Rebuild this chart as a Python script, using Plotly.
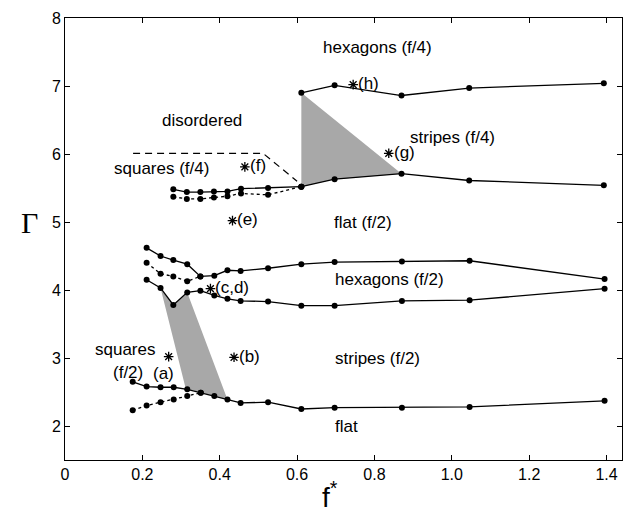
import plotly.graph_objects as go

# ---- data ----
f4_x = [0.611, 0.697, 0.870, 1.045, 1.393]
f4_hex_top = [6.90, 7.01, 6.86, 6.97, 7.04]
f4_flat_top = [5.52, 5.63, 5.71, 5.61, 5.54]

sq4_x = [0.280, 0.315, 0.350, 0.385, 0.420, 0.455, 0.525, 0.611]
sq4_upper = [5.48, 5.44, 5.44, 5.45, 5.45, 5.49, 5.50, 5.52]
sq4_lower = [5.37, 5.34, 5.34, 5.36, 5.38, 5.42, 5.40, 5.52]

hex2_x = [0.211, 0.247, 0.280, 0.316, 0.350, 0.386, 0.420, 0.454, 0.525, 0.611, 0.697, 0.871, 1.046, 1.395]
hex2_upper = [4.62, 4.50, 4.44, 4.38, 4.20, 4.21, 4.29, 4.28, 4.32, 4.38, 4.41, 4.42, 4.43, 4.16]
hex2_lower = [4.15, 4.03, 3.78, 3.965, 3.99, 3.92, 3.87, 3.84, 3.83, 3.77, 3.77, 3.84, 3.85, 4.02]

hex2_dot_x = [0.211, 0.247, 0.280, 0.316, 0.350]
hex2_dot_y = [4.40, 4.24, 4.20, 4.13, 4.20]

flat_x = [0.175, 0.211, 0.247, 0.281, 0.316, 0.351, 0.386, 0.420, 0.454, 0.525, 0.611, 0.697, 0.871, 1.046, 1.395]
flat_y = [2.65, 2.58, 2.57, 2.57, 2.54, 2.49, 2.44, 2.39, 2.34, 2.35, 2.25, 2.27, 2.27, 2.28, 2.37]

sq2_dot_x = [0.175, 0.211, 0.247, 0.281, 0.316, 0.351]
sq2_dot_y = [2.23, 2.30, 2.35, 2.39, 2.44, 2.49]

dis_x = [0.176, 0.512, 0.600]
dis_y = [6.01, 6.01, 5.60]

grey4_x = [0.611, 0.611, 0.697, 0.870]
grey4_y = [6.90, 5.52, 5.63, 5.71]

grey2_x = [0.247, 0.281, 0.316, 0.420, 0.386, 0.351, 0.312]
grey2_y = [4.03, 3.78, 3.965, 2.39, 2.44, 2.49, 2.55]

star_x = [0.268, 0.437, 0.376, 0.433, 0.465, 0.837, 0.745]
star_y = [3.02, 3.01, 4.02, 5.02, 5.81, 6.01, 7.02]
star_lbl = ["(a)", "(b)", "(c,d)", "(e)", "(f)", "(g)", "(h)"]

region_lbl = ["hexagons (f/4)", "disordered", "stripes (f/4)", "squares (f/4)", "flat (f/2)",
              "hexagons (f/2)", "stripes (f/2)", "flat", "squares", "(f/2)"]
region_x = [0.808, 0.354, 1.002, 0.250, 0.771, 0.840, 0.809, 0.728, 0.155, 0.162]
region_y = [7.56, 6.50, 6.24, 5.79, 4.99, 4.15, 2.99, 1.99, 3.13, 2.78]

ticks_x = [0, 0.2, 0.4, 0.6, 0.8, 1.0, 1.2, 1.4]
ticks_x_lbl = ["0", "0.2", "0.4", "0.6", "0.8", "1.0", "1.2", "1.4"]
ticks_y = [2, 3, 4, 5, 6, 7, 8]

FONT = "Arial, Liberation Sans, sans-serif"
GREY = "#a8a8a8"

fig = go.Figure()

# shaded regions
fig.add_trace(go.Scatter(x=grey4_x, y=grey4_y, fill="toself", fillcolor=GREY,
                         mode="lines", line=dict(width=0, color=GREY), hoverinfo="skip"))
fig.add_trace(go.Scatter(x=grey2_x, y=grey2_y, fill="toself", fillcolor=GREY,
                         mode="lines", line=dict(width=0, color=GREY), hoverinfo="skip"))

def solid(x, y):
    fig.add_trace(go.Scatter(x=x, y=y, mode="lines+markers",
                             line=dict(color="black", width=1.3),
                             marker=dict(color="black", size=6)))

def dotted(x, y):
    fig.add_trace(go.Scatter(x=x, y=y, mode="lines+markers",
                             line=dict(color="black", width=1.3, dash="dot"),
                             marker=dict(color="black", size=6)))

solid(f4_x, f4_hex_top)
solid(f4_x, f4_flat_top)
solid(sq4_x, sq4_upper)
dotted(sq4_x, sq4_lower)
solid(hex2_x, hex2_upper)
solid(hex2_x, hex2_lower)
dotted(hex2_dot_x, hex2_dot_y)
solid(flat_x, flat_y)
dotted(sq2_dot_x, sq2_dot_y)

fig.add_trace(go.Scatter(x=dis_x, y=dis_y, mode="lines",
                         line=dict(color="black", width=1.2, dash="7px,5px")))

fig.add_trace(go.Scatter(x=star_x, y=star_y, mode="markers",
                         marker=dict(symbol="asterisk-open", size=8, color="black",
                                     line=dict(color="black", width=1.3))))

annotations = []
for i, t in enumerate(star_lbl):
    if t == "(a)":
        annotations.append(dict(x=star_x[i], y=star_y[i], text=t, showarrow=False,
                                xanchor="center", yanchor="top", xshift=-5, yshift=-5,
                                font=dict(family=FONT, size=17, color="black")))
    else:
        annotations.append(dict(x=star_x[i], y=star_y[i], text=t, showarrow=False,
                                xanchor="left", yanchor="middle", xshift=3, yshift=1,
                                font=dict(family=FONT, size=17, color="black")))
for t, x, y in zip(region_lbl, region_x, region_y):
    annotations.append(dict(x=x, y=y, text=t, showarrow=False, xanchor="center",
                            yanchor="middle", font=dict(family=FONT, size=17, color="black")))

annotations.append(dict(xref="paper", yref="paper", x=-0.063, y=0.538, text="Γ",
                        showarrow=False, xanchor="center", yanchor="middle",
                        font=dict(family="Liberation Serif, serif", size=30, color="black")))
annotations.append(dict(xref="paper", yref="paper", x=0.476, y=-0.079, text="f<sup>*</sup>",
                        showarrow=False, xanchor="center", yanchor="middle",
                        font=dict(family=FONT, size=28, color="black")))

fig.update_layout(
    width=633, height=517,
    margin=dict(l=57, r=19, t=10, b=65),
    plot_bgcolor="white", paper_bgcolor="white",
    showlegend=False,
    annotations=annotations,
    font=dict(family=FONT, size=16, color="black"),
)
fig.update_xaxes(range=[0, 1.44], tickvals=ticks_x, ticktext=ticks_x_lbl,
                 showgrid=False, zeroline=False, showline=True, linecolor="black", linewidth=1,
                 mirror="ticks", ticks="inside", ticklen=5, tickcolor="black", automargin=False,
                 tickfont=dict(family=FONT, size=16, color="black"))
fig.update_yaxes(range=[1.5, 8], tickvals=ticks_y,
                 showgrid=False, zeroline=False, showline=True, linecolor="black", linewidth=1,
                 mirror="ticks", ticks="inside", ticklen=5, tickcolor="black", automargin=False,
                 tickfont=dict(family=FONT, size=16, color="black"))

fig.write_html("out.html")
